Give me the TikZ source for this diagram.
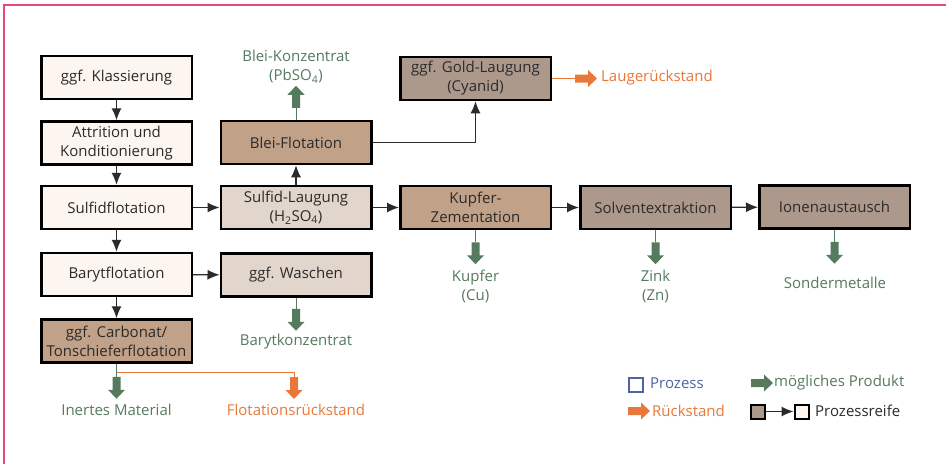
\documentclass[tikz,border=0pt]{standalone}
\usepackage{fontspec}
\setmainfont{Open Sans}
\usetikzlibrary{arrows.meta,calc}
\definecolor{cream}{HTML}{FDF6F0}
\definecolor{lightb}{HTML}{E2D5CC}
\definecolor{tanb}{HTML}{C1A187}
\definecolor{grb}{HTML}{AD998B}
\definecolor{prodgreen}{HTML}{557A5E}
\definecolor{resorange}{HTML}{E8783A}
\definecolor{txtdark}{HTML}{2B2B2B}
\definecolor{procblue}{HTML}{4F62A3}
\definecolor{framec}{HTML}{E8457A}
\begin{document}
\begin{tikzpicture}[x=1pt,y=-1pt,
  every node/.style={font=\fontsize{15}{19}\selectfont},
  box/.style={draw=black, line width=2.5pt, minimum width=150.5pt, minimum height=43pt,
    inner sep=2pt, align=center, text=txtdark},
  conn/.style={draw=txtdark, line width=1.1pt, -{Latex[length=12pt,width=10pt]}},
  pline/.style={draw=prodgreen, line width=1pt},
  oline/.style={draw=resorange, line width=1pt},
  ptxt/.style={text=prodgreen, align=center, inner sep=1pt},
  otxt/.style={text=resorange, align=center, inner sep=1pt},
  barrow/.pic={\fill (0,-4) -- (13,-4) -- (13,-8.5) -- (22,0) -- (13,8.5) -- (13,4) -- (0,4) -- cycle;}
]
\useasboundingbox (0,0) rectangle (946,464);
\fill[white] (0,0) rectangle (946,464);
\draw[framec, line width=2pt] (3.5,464) -- (3.5,4.5) -- (946,4.5);

% process boxes
\node[box, fill=cream] (kl) at (116.5,77.5) {ggf. Klassierung};
\node[box, fill=cream] (at) at (116.5,143) {Attrition und\\Konditionierung};
\node[box, fill=cream] (sf) at (116.5,207.5) {Sulfidflotation};
\node[box, fill=cream] (ba) at (116.5,274.5) {Barytflotation};
\node[box, fill=tanb] (ca) at (116.5,341) {ggf. Carbonat/\\Tonschieferflotation};
\node[box, fill=tanb] (bf) at (296,142.5) {Blei-Flotation};
\node[box, fill=lightb] (sl) at (296,207.5) {Sulfid-Laugung\\(H\textsubscript{2}SO\textsubscript{4})};
\node[box, fill=lightb] (wa) at (296,275) {ggf. Waschen};
\node[box, fill=grb] (gl) at (475.5,78.5) {ggf. Gold-Laugung\\(Cyanid)};
\node[box, fill=tanb] (kz) at (475.5,207.5) {Kupfer-\\Zementation};
\node[box, fill=grb] (se) at (655.5,207.5) {Solventextraktion};
\node[box, fill=grb] (ia) at (834.5,207) {Ionenaustausch};

% process connectors
\draw[conn] (kl) -- (at);
\draw[conn] (at) -- (sf);
\draw[conn] (sf) -- (ba);
\draw[conn] (ba) -- (ca);
\draw[conn] (sf) -- (sl);
\draw[conn] (ba) -- (wa);
\draw[conn] (sl) -- (bf);
\draw[conn] (bf.east) -| (gl.south);
\draw[conn] (sl) -- (kz);
\draw[conn] (kz) -- (se);
\draw[conn] (se) -- (ia);

% products and residues
\draw[pline] (bf.north) -- ++(0,-12) coordinate (bfA);
\pic[rotate=90, prodgreen] at (bfA) {barrow};
\node[ptxt] (bfT) at (296,67) {Blei-Konzentrat\\(PbSO\textsubscript{4})};

\draw[oline] (gl.east) -- ++(23,0) coordinate (glA);
\pic[resorange] at (glA) {barrow};
\node[otxt, anchor=west] (glT) at (600,78) {Laugerückstand};

\draw[pline] (kz.south) -- ++(0,12) coordinate (kzA);
\pic[rotate=-90, prodgreen] at (kzA) {barrow};
\node[ptxt] (kzT) at (475.5,286) {Kupfer\\(Cu)};

\draw[pline] (se.south) -- ++(0,12) coordinate (seA);
\pic[rotate=-90, prodgreen] at (seA) {barrow};
\node[ptxt] (seT) at (655.5,286) {Zink\\(Zn)};

\draw[pline] (ia.south) -- ++(0,12) coordinate (iaA);
\pic[rotate=-90, prodgreen] at (iaA) {barrow};
\node[ptxt] (iaT) at (835,283) {Sondermetalle};

\draw[pline] (wa.south) -- ++(0,11) coordinate (waA);
\pic[rotate=-90, prodgreen] at (waA) {barrow};
\node[ptxt] (waT) at (296,342) {Barytkonzentrat};

\draw[pline] (ca.south) -- ++(0,13) coordinate (caA);
\pic[rotate=-90, prodgreen] at (caA) {barrow};
\coordinate (caJ) at ($(ca.south)+(0,9)$);
\coordinate (orB) at (294,377);
\draw[oline] (caJ) -| (orB);
\pic[rotate=-90, resorange] at (orB) {barrow};
\node[ptxt] (caT) at (116.5,410) {Inertes Material};
\node[otxt] (orT) at (296,410) {Flotationsrückstand};

% legend
\node[draw=procblue, line width=2pt, minimum size=14pt, inner sep=0pt] (lp) at (636,384.5) {};
\node[text=procblue, anchor=west, inner sep=1pt] (lpT) at (649,383) {Prozess};
\coordinate (lg) at (751,383);
\pic[prodgreen] at (lg) {barrow};
\node[ptxt, anchor=west] (lgT) at (773,383) {mögliches Produkt};
\coordinate (lo) at (628,411);
\pic[resorange] at (lo) {barrow};
\node[otxt, anchor=west] (loT) at (651,411) {Rückstand};
\node[draw=black, line width=2pt, fill=grb, minimum size=14pt, inner sep=0pt] (lq1) at (758,411.5) {};
\node[draw=black, line width=2pt, fill=cream, minimum size=14pt, inner sep=0pt] (lq2) at (801.5,411.5) {};
\draw[conn] (lq1) -- (lq2);
\node[text=txtdark, anchor=west, inner sep=1pt] (lqT) at (814,411) {Prozessreife};
\end{tikzpicture}
\end{document}
